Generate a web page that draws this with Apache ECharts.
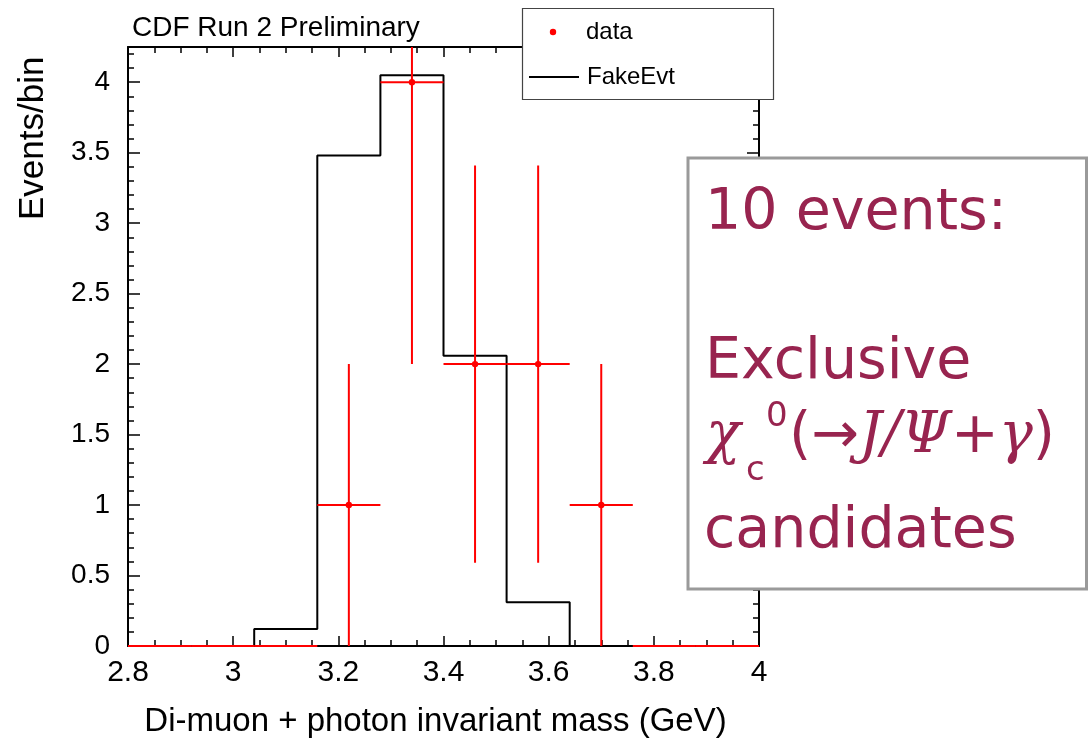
<!DOCTYPE html>
<html>
<head>
<meta charset="utf-8">
<script src="https://cdn.jsdelivr.net/npm/echarts@6/dist/echarts.min.js"></script>
<style>
  html, body { margin: 0; padding: 0; background: #ffffff; }
  #chart { width: 1089px; height: 742px; }
</style>
</head>
<body>
<div id="chart"></div>
<script>
// Bin edges of the di-muon + photon invariant mass histogram (GeV)
const binEdges = [2.8, 2.92, 3.04, 3.16, 3.28, 3.40, 3.52, 3.64, 3.76, 3.88, 4.0];
// Expected shape from the FakeEvt sample, events per bin
const fakeEvtCounts = [0, 0, 0.12, 3.48, 4.05, 2.06, 0.31, 0, 0, 0];
// Observed candidate counts per bin and their statistical errors
const dataCounts = [0, 0, 0, 1, 4, 2, 2, 1, 0, 0];
const dataErrors = [0, 0, 0, 1, 2, 1.41, 1.41, 1, 0, 0];
// Axis tick values
const xTicks = [2.8, 3.0, 3.2, 3.4, 3.6, 3.8, 4.0];
const yTicks = [0, 0.5, 1, 1.5, 2, 2.5, 3, 3.5, 4];

const FONT = "'Liberation Sans', Arial, sans-serif";
const BOX_FONT = "'DejaVu Sans', sans-serif";
const BOX_COLOR = '#98244f';

// Step outline: each bin's left edge with its height, closed at the last edge
const histLine = binEdges.slice(0, -1).map((e, i) => [e, fakeEvtCounts[i]]);
histLine.push([binEdges[binEdges.length - 1], fakeEvtCounts[fakeEvtCounts.length - 1]]);

// Data rows: [bin centre, count, error, half bin width]
const dataRows = dataCounts.map((c, i) => [
  (binEdges[i] + binEdges[i + 1]) / 2, c, dataErrors[i], (binEdges[i + 1] - binEdges[i]) / 2
]);

const chart = echarts.init(document.getElementById('chart'), null, { renderer: 'canvas' });

const axisCommon = {
  axisLine: { show: true, onZero: false, lineStyle: { color: '#000', width: 2 } },
  splitLine: { show: false }
};
const tickStyle = { color: '#000', width: 1.5 };

function renderErrorBar(params, api) {
  const x = api.value(0), y = api.value(1), e = api.value(2), hw = api.value(3);
  const cs = params.coordSys;
  const left = api.coord([x - hw, y]);
  const right = api.coord([x + hw, y]);
  const style = { stroke: '#ff0000', lineWidth: 2 };
  const children = [{
    type: 'line',
    shape: { x1: left[0], y1: left[1], x2: right[0], y2: right[1] },
    style: style
  }];
  if (e > 0) {
    const top = api.coord([x, y + e]);
    const bot = api.coord([x, y - e]);
    children.push({
      type: 'line',
      shape: { x1: top[0], y1: Math.max(top[1], cs.y), x2: bot[0], y2: Math.min(bot[1], cs.y + cs.height) },
      style: style
    });
  }
  if (y > 0) {
    const c = api.coord([x, y]);
    children.push({ type: 'circle', shape: { cx: c[0], cy: c[1], r: 3.2 }, style: { fill: '#ff0000' } });
  }
  return { type: 'group', children: children };
}

const Z = 100;
function boxText(x, y, text, size, extra) {
  return {
    type: 'text', x: x, y: y, z: Z + 1,
    style: Object.assign({ text: text, fontFamily: BOX_FONT, fontSize: size, fill: BOX_COLOR, verticalAlign: 'middle' }, extra || {})
  };
}

const option = {
  animation: false,
  backgroundColor: '#ffffff',
  title: {
    text: 'CDF Run 2 Preliminary',
    left: 127, top: 9,
    textStyle: { fontFamily: FONT, fontSize: 28, fontWeight: 'normal', color: '#000' }
  },
  grid: { left: 128, right: 330, top: 47, bottom: 96, containLabel: false, outerBoundsMode: 'none' },
  xAxis: [{
    type: 'value', min: xTicks[0], max: xTicks[xTicks.length - 1], interval: 0.2,
    position: 'bottom',
    ...axisCommon,
    name: 'Di-muon + photon invariant mass (GeV)',
    nameLocation: 'middle', nameGap: 59,
    nameTextStyle: { fontFamily: FONT, fontSize: 33, color: '#000', padding: [0, 16, 0, 0] },
    axisTick: { show: true, inside: true, length: 10, lineStyle: tickStyle },
    minorTick: { show: true, splitNumber: 4, length: 6, lineStyle: tickStyle },
    axisLabel: { fontFamily: FONT, fontSize: 30, color: '#000', margin: 12 }
  }, {
    type: 'value', min: xTicks[0], max: xTicks[xTicks.length - 1], interval: 0.2,
    position: 'top',
    ...axisCommon,
    axisTick: { show: true, inside: true, length: 10, lineStyle: tickStyle },
    minorTick: { show: true, splitNumber: 4, length: 6, lineStyle: tickStyle },
    axisLabel: { show: false }
  }],
  yAxis: [{
    type: 'value', min: yTicks[0], max: 4.25, interval: 0.5,
    position: 'left',
    ...axisCommon,
    axisTick: { show: true, inside: true, length: 12, lineStyle: tickStyle },
    minorTick: { show: true, splitNumber: 5, length: 6, lineStyle: tickStyle },
    axisLabel: {
      fontFamily: FONT, fontSize: 28, color: '#000', margin: 18,
      showMaxLabel: false,
      formatter: v => (yTicks.indexOf(v) >= 0 ? String(v) : '')
    }
  }, {
    type: 'value', min: yTicks[0], max: 4.25, interval: 0.5,
    position: 'right',
    ...axisCommon,
    axisTick: { show: true, inside: true, length: 12, lineStyle: tickStyle },
    minorTick: { show: true, splitNumber: 5, length: 6, lineStyle: tickStyle },
    axisLabel: { show: false }
  }],
  series: [{
    name: 'FakeEvt',
    type: 'line',
    step: 'end',
    data: histLine,
    showSymbol: false,
    lineStyle: { color: '#000', width: 2 },
    z: 3
  }, {
    name: 'data',
    type: 'custom',
    data: dataRows,
    renderItem: renderErrorBar,
    z: 4
  }],
  graphic: [
    // y axis title
    {
      type: 'text', x: 33, y: 220, rotation: Math.PI / 2,
      style: { text: 'Events/bin', fontFamily: FONT, fontSize: 35, fill: '#000', align: 'left', verticalAlign: 'middle' }
    },
    // legend
    { type: 'rect', z: Z, shape: { x: 522.5, y: 8.5, width: 251, height: 91 }, style: { fill: '#fff', stroke: '#444', lineWidth: 1.2 } },
    { type: 'circle', z: Z + 1, shape: { cx: 553, cy: 32, r: 3.2 }, style: { fill: '#ff0000' } },
    { type: 'text', z: Z + 1, x: 586, y: 32, style: { text: 'data', fontFamily: FONT, fontSize: 24, fill: '#000', verticalAlign: 'middle' } },
    { type: 'line', z: Z + 1, shape: { x1: 529, y1: 77, x2: 579, y2: 77 }, style: { stroke: '#000', lineWidth: 2 } },
    { type: 'text', z: Z + 1, x: 587, y: 77, style: { text: 'FakeEvt', fontFamily: FONT, fontSize: 24, fill: '#000', verticalAlign: 'middle' } },
    // annotation box
    { type: 'rect', z: Z, shape: { x: 688, y: 158, width: 398.5, height: 431 }, style: { fill: '#fff', stroke: '#9a9a9a', lineWidth: 3 } },
    boxText(705, 214, '10 events:', 57),
    boxText(705, 363, 'Exclusive', 57),
    boxText(706, 437, 'χ', 57, { fontFamily: "'DejaVu Serif', serif", fontStyle: 'italic' }),
    boxText(746, 471, 'c', 34),
    boxText(766, 417, '0', 34),
    {
      type: 'text', x: 789, y: 437, z: Z + 1,
      style: {
        text: '{n|(→}{it|J/Ψ}{n|+}{it|γ}{n|)}',
        verticalAlign: 'middle', fill: BOX_COLOR,
        rich: {
          n: { fontFamily: BOX_FONT, fontSize: 57, fill: BOX_COLOR },
          it: { fontFamily: "'DejaVu Serif', serif", fontStyle: 'italic', fontSize: 57, fill: BOX_COLOR }
        }
      }
    },
    boxText(704, 532, 'candidates', 57)
  ]
};

chart.setOption(option);
</script>
</body>
</html>
